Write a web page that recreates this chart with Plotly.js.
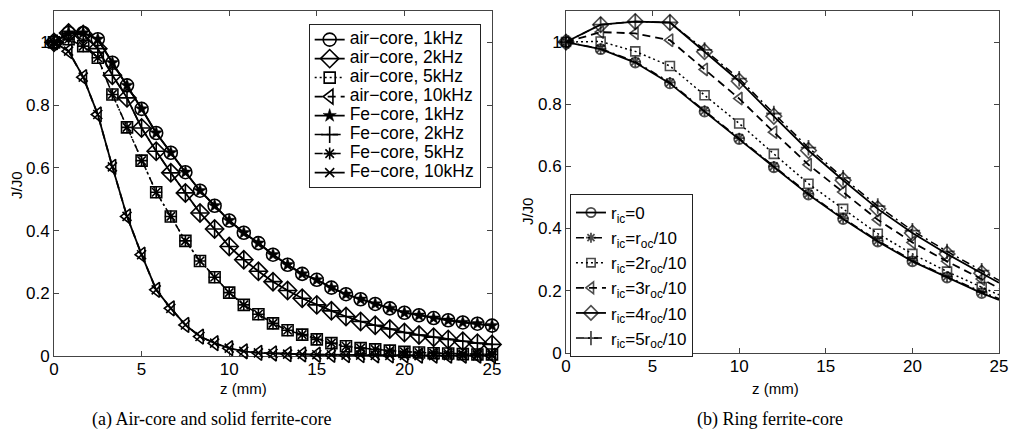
<!DOCTYPE html>
<html>
<head>
<meta charset="utf-8">
<script src="https://cdn.plot.ly/plotly-3.0.1.min.js"></script>
<style>html,body{margin:0;padding:0;background:#fff;}#chart{width:1013px;height:438px;}</style>
</head>
<body>
<div id="chart"></div>
<script>
// ---------- data: panel (a) ----------
const zA = [0,0.833,1.667,2.5,3.333,4.167,5,5.833,6.667,7.5,8.333,9.167,10,10.833,11.667,12.5,13.333,14.167,15,15.833,16.667,17.5,18.333,19.167,20,20.833,21.667,22.5,23.333,24.167,25];
const air1k  = [1.0,1.03,1.03,1.01,0.935,0.863,0.788,0.711,0.648,0.586,0.527,0.479,0.432,0.393,0.36,0.323,0.291,0.262,0.243,0.218,0.197,0.181,0.166,0.152,0.138,0.130,0.121,0.114,0.107,0.103,0.097];
const air2k  = [1.0,1.03,1.025,0.98,0.895,0.823,0.727,0.653,0.584,0.52,0.456,0.405,0.349,0.307,0.270,0.237,0.209,0.184,0.163,0.144,0.126,0.110,0.098,0.086,0.075,0.067,0.060,0.053,0.047,0.041,0.037];
const air5k  = [1.0,1.01,0.988,0.951,0.834,0.729,0.623,0.522,0.445,0.367,0.303,0.251,0.202,0.163,0.133,0.104,0.082,0.068,0.053,0.041,0.031,0.025,0.021,0.017,0.013,0.011,0.009,0.008,0.006,0.005,0.005];
const air10k = [1.0,0.972,0.889,0.770,0.603,0.445,0.323,0.211,0.152,0.099,0.062,0.041,0.025,0.015,0.010,0.008,0.006,0.005,0.004,0.004,0.003,0.003,0.002,0.002,0.002,0.001,0.001,0.001,0.001,0.001,0.001];
const fe1k   = [1.0,1.03,1.03,1.01,0.935,0.863,0.788,0.711,0.648,0.586,0.527,0.479,0.432,0.393,0.36,0.323,0.291,0.262,0.243,0.218,0.197,0.181,0.166,0.152,0.138,0.130,0.121,0.114,0.107,0.103,0.097];
const fe2k   = [1.0,1.03,1.025,0.98,0.895,0.823,0.727,0.653,0.584,0.52,0.456,0.405,0.349,0.307,0.270,0.237,0.209,0.184,0.163,0.144,0.126,0.110,0.098,0.086,0.075,0.067,0.060,0.053,0.047,0.041,0.037];
const fe5k   = [1.0,1.01,0.988,0.951,0.834,0.729,0.623,0.522,0.445,0.367,0.303,0.251,0.202,0.163,0.133,0.104,0.082,0.068,0.053,0.041,0.031,0.025,0.021,0.017,0.013,0.011,0.009,0.008,0.006,0.005,0.005];
const fe10k  = [1.0,0.972,0.889,0.770,0.603,0.445,0.323,0.211,0.152,0.099,0.062,0.041,0.025,0.015,0.010,0.008,0.006,0.005,0.004,0.004,0.003,0.003,0.002,0.002,0.002,0.001,0.001,0.001,0.001,0.001,0.001];
const namesA = ["air−core, 1kHz","air−core, 2kHz","air−core, 5kHz","air−core, 10kHz","Fe−core, 1kHz","Fe−core, 2kHz","Fe−core, 5kHz","Fe−core, 10kHz"];

// ---------- data: panel (b) ----------
const zB = [0,2,4,6,8,10,12,14,16,18,20,22,24,25];
const ring0 = [1.0,0.977,0.934,0.867,0.776,0.688,0.597,0.509,0.430,0.358,0.294,0.242,0.192,0.170];
const ring1 = [1.0,0.979,0.937,0.870,0.779,0.691,0.600,0.512,0.433,0.361,0.297,0.245,0.196,0.174];
const ring2 = [1.0,1.002,0.970,0.923,0.829,0.738,0.640,0.544,0.463,0.383,0.318,0.261,0.211,0.186];
const ring3 = [1.0,1.032,1.028,1.006,0.912,0.818,0.710,0.605,0.517,0.428,0.355,0.294,0.237,0.208];
const ring4 = [1.0,1.056,1.066,1.063,0.969,0.874,0.761,0.651,0.555,0.463,0.385,0.318,0.256,0.225];
const ring5 = [1.0,1.056,1.066,1.063,0.975,0.882,0.770,0.660,0.563,0.472,0.393,0.326,0.264,0.233];
const namesB = ["r<sub>ic</sub>=0","r<sub>ic</sub>=r<sub>oc</sub>/10","r<sub>ic</sub>=2r<sub>oc</sub>/10","r<sub>ic</sub>=3r<sub>oc</sub>/10","r<sub>ic</sub>=4r<sub>oc</sub>/10","r<sub>ic</sub>=5r<sub>oc</sub>/10"];

// ---------- ticks ----------
const xTicks = [0,5,10,15,20,25];
const xTickText = ["0","5","10","15","20","25"];
const yTicks = [0,0.2,0.4,0.6,0.8,1];
const yTickText = ["0","0.2","0.4","0.6","0.8","1"];

// ---------- styles ----------
const K = '#000';
const DOT = '2px,3px', DASH = '8px,5px', DASHDOT = '8px,4px,2px,4px';
function leg1(t){ return '<span style="font-size:17.5px">' + t + '</span>'; }

const stylesA = [
  {sym:'circle-open', size:13, dash:'solid', lw:1.8, mlw:1.6},
  {sym:'diamond-open', size:14, dash:'solid', lw:1.8, mlw:1.6},
  {sym:'square-open', size:11, dash:DOT, lw:1.5, mlw:1.6},
  {sym:'triangle-left-open', size:13, dash:DASH, lw:1.8, mlw:1.6},
  {sym:'star', size:10, dash:'solid', lw:1.8, mlw:0.5},
  {sym:'cross-thin-open', size:12, dash:DASHDOT, lw:1.5, mlw:1.6},
  {sym:'asterisk-open', size:10, dash:DASHDOT, lw:1.5, mlw:1.6},
  {sym:'x-thin-open', size:9, dash:'solid', lw:1.8, mlw:1.6}
];
const seriesA = [air1k, air2k, air5k, air10k, fe1k, fe2k, fe5k, fe10k];

const stylesB = [
  {sym:'circle-open', size:10, dash:'solid', lw:1.8, mlw:1.8},
  {sym:'asterisk-open', size:9, dash:DASHDOT, lw:1.5, mlw:1.8},
  {sym:'square-open', size:9, dash:DOT, lw:1.5, mlw:1.6},
  {sym:'triangle-left-open', size:11, dash:DASH, lw:1.8, mlw:1.6},
  {sym:'diamond-open', size:12, dash:'solid', lw:1.8, mlw:1.6},
  {sym:'cross-thin-open', size:11, dash:DASHDOT, lw:1.5, mlw:1.8}
];
const seriesB = [ring0, ring1, ring2, ring3, ring4, ring5];

const traces = [];
seriesA.forEach((y, i) => {
  const s = stylesA[i];
  traces.push({
    type:'scatter', mode:'lines+markers', x:zA, y:y, name:leg1(namesA[i]),
    xaxis:'x', yaxis:'y', legend:'legend', cliponaxis:false,
    line:{color:K, width:s.lw, dash:s.dash},
    marker:{symbol:s.sym, size:s.size, color:K, line:{color:K, width:s.mlw}}
  });
});
seriesB.forEach((y, i) => {
  const s = stylesB[i];
  traces.push({
    type:'scatter', mode:'lines+markers', x:zB, y:y, name:namesB[i],
    xaxis:'x2', yaxis:'y2', legend:'legend2', cliponaxis:false,
    line:{color:K, width:s.lw, dash:s.dash},
    marker:{symbol:s.sym, size:zB.map(v => v > 24 ? 0 : s.size), color:K, line:{color:K, width:s.mlw}}
  });
});

const tickFont = {family:'Liberation Sans, Arial, sans-serif', size:17, color:'#000'};
function xax(domain, anchor){
  return {domain:domain, anchor:anchor, range:[0,25], tickvals:xTicks, ticktext:xTickText,
    ticks:'inside', ticklen:5, tickcolor:'#444', showline:true, linecolor:'#444', linewidth:1,
    mirror:'ticks', showgrid:false, zeroline:false, tickfont:tickFont, layer:'below traces', fixedrange:true,
    ticklabelstandoff:-2};
}
function yax(domain, anchor){
  return {domain:domain, anchor:anchor, range:[0,1.1], tickvals:yTicks, ticktext:yTickText,
    ticks:'inside', ticklen:5, tickcolor:'#444', showline:true, linecolor:'#444', linewidth:1,
    mirror:'ticks', showgrid:false, zeroline:false, tickfont:tickFont, layer:'below traces', fixedrange:true};
}

const labFont = {family:'Liberation Sans Narrow, Liberation Sans, Arial, sans-serif', size:15, color:'#000'};
const capFont = {family:'Liberation Serif, Times New Roman, serif', size:18, color:'#000'};
function ann(text, x, y, font, angle){
  return {text:text, xref:'paper', yref:'paper', x:x, y:y, xanchor:'center', yanchor:'middle',
    textangle:angle || 0, showarrow:false, font:font};
}

const layout = {
  width:1013, height:438,
  margin:{l:54, r:14, t:11, b:82, pad:0},
  paper_bgcolor:'#fff', plot_bgcolor:'#fff',
  showlegend:true,
  xaxis: xax([0,0.4635],'y'),
  yaxis: yax([0,1],'x'),
  xaxis2: xax([0.5418,1],'y2'),
  yaxis2: yax([0.0096,1],'x2'),
  legend:{x:0.2695, y:0.962, xanchor:'left', yanchor:'top', bgcolor:'#fff', bordercolor:'#222', borderwidth:1,
    font:{family:'Liberation Sans, Arial, sans-serif', size:12, color:'#000'}, tracegroupgap:0},
  legend2:{x:0.546, y:0.4696, xanchor:'left', yanchor:'top', bgcolor:'#fff', bordercolor:'#222', borderwidth:1,
    font:{family:'Liberation Sans, Arial, sans-serif', size:17, color:'#000'}, tracegroupgap:0},
  annotations:[
    ann('J/J0', -0.0392, 0.4957, labFont, -90),
    ann('J/J0', 0.5005, 0.420, labFont, -90),
    ann('z (mm)', 0.200, -0.095, labFont),
    ann('z (mm)', 0.763, -0.095, labFont),
    ann('(a) Air-core and solid ferrite-core', 0.1672, -0.1855, capFont),
    ann('(b) Ring ferrite-core', 0.7577, -0.1855, capFont)
  ]
};

Plotly.newPlot('chart', traces, layout, {displayModeBar:false, staticPlot:true});
</script>
</body>
</html>
